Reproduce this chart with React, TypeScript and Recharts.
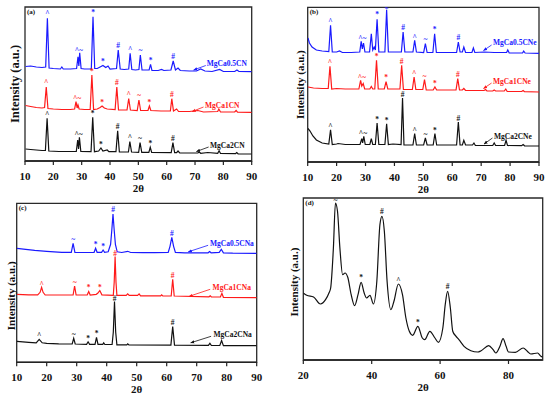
import React from 'react'
import { ComposedChart, Line, Scatter, XAxis, YAxis, ReferenceArea, ReferenceLine, Label } from 'recharts'

type Pt = [number, number]
type Mark = [number, number, string]

const FONT = '"Liberation Serif", "Times New Roman", "DejaVu Serif", serif'
const BLUE = '#1a1aff'
const RED = '#ff1a1a'
const BLACK = '#111111'

const ticks10 = [10, 20, 30, 40, 50, 60, 70, 80, 90]
const ticks20 = [20, 40, 60, 80]

// ---- panel (a) ----
const aBlue: Pt[] = [
  [10.2, 94.5], [12, 95], [14, 94], [16, 93.5], [17.3, 94], [17.9, 142.7], [18.5, 93], [20, 92.5], [22.5, 92], [23, 94],
  [23.5, 92], [26, 92], [28.2, 92.5], [28.7, 104.3], [29.0, 95], [29.3, 108.3], [29.8, 92.5], [31, 92], [33.4, 92], [34, 144.3],
  [34.6, 92.5], [35.5, 92.5], [36.5, 94], [37.5, 95.5], [38.5, 93.5], [39.3, 95], [40, 92], [42.3, 92.5], [42.9, 111], [43.6, 92],
  [45, 91.5], [46.6, 92], [47.1, 107.7], [47.7, 91.5], [49, 91], [50.2, 91.5], [50.7, 106], [51.3, 91], [53.8, 91], [54.3, 96.7],
  [54.8, 90.5], [57, 90.5], [58.2, 91.5], [59, 90.5], [61.5, 91], [62.3, 100], [63.1, 91], [64, 93], [64.8, 90.5], [68, 90],
  [70.5, 90], [72, 92], [73.5, 90], [76, 89.5], [78.7, 91.5], [80, 89.5], [84, 89.5], [84.8, 91], [85.5, 89.5], [90, 89.3],
]
const aRed: Pt[] = [
  [10.2, 55.5], [12, 54.5], [14, 53.5], [16, 53], [16.9, 53.5], [17.5, 74], [18.1, 52.5], [20, 52], [23, 51.5], [26, 51.5],
  [27.5, 52], [28, 59.3], [28.4, 53], [28.7, 56], [29.1, 52], [31, 51.5], [33, 51.5], [33.6, 86], [34.2, 51.5], [35.5, 52],
  [36.5, 53.5], [37.2, 55], [38, 53], [39, 52], [41.8, 51.5], [42.4, 74], [43, 51], [46, 51], [46.6, 62.3], [47.2, 51],
  [49.6, 50.5], [50.2, 61], [50.8, 50.5], [53.4, 50.5], [53.9, 55], [54.4, 50.5], [58, 50], [61.3, 50], [61.8, 62.3], [62.4, 50],
  [63.5, 52], [64.2, 49.5], [68, 49.5], [71, 50.5], [73, 49], [78, 49.5], [78.4, 52], [79, 49], [84, 49], [84.5, 50.5],
  [85, 48.8], [90, 48.7],
]
const aBlack: Pt[] = [
  [10.2, 12], [12, 11.5], [14, 11], [16, 10.5], [17.2, 10.5], [17.8, 42.7], [18.4, 10], [22, 9.5], [28.1, 9.5], [28.6, 21],
  [28.9, 12], [29.2, 23.7], [29.7, 9.5], [33.3, 9.3], [33.9, 43.7], [34.5, 9.3], [36, 10], [36.8, 13], [37.5, 10], [39, 11],
  [39.6, 9.3], [42.1, 9.3], [42.7, 30.3], [43.3, 9], [46.5, 9], [47, 19.3], [47.6, 9], [50.1, 8.7], [50.6, 18.3], [51.2, 8.7],
  [53.7, 8.7], [54.2, 13.7], [54.7, 8.5], [61.6, 8.3], [62.2, 18.3], [62.8, 8.3], [63.5, 8.3], [64, 10], [64.6, 8], [71, 8],
  [71.5, 9], [72, 7.7], [74.5, 8.5], [78, 7.7], [78.5, 10.3], [79, 7.5], [84.3, 7.3], [84.7, 8.5], [85.2, 7.2], [90, 7],
]
const aBlueMarks: Mark[] = [
  [17.9, 147.5, '^'], [29, 111, '^~'], [34, 148.5, '*'], [37.5, 99.5, '*'],
  [42.9, 115.5, '#'], [47.1, 112, '^'], [50.7, 110.5, '~'], [54.3, 101, '*'], [62.3, 104.5, '#'],
]
const aRedMarks: Mark[] = [
  [17.5, 78.5, '^'], [28.4, 62.5, '^~'], [33.6, 90, '*'], [37.2, 59, '*'],
  [42.4, 78.5, '#'], [46.6, 66.5, '^'], [50.2, 65.5, '~'], [53.9, 59, '*'], [61.8, 66.5, '#'],
]
const aBlackMarks: Mark[] = [
  [17.8, 47, '^'], [28.9, 27, '^~'], [33.9, 48, '*'], [36.8, 17, '*'],
  [42.7, 34.5, '#'], [47, 23.5, '^'], [50.6, 22.5, '~'], [54.2, 18, '*'], [62.2, 22.5, '#'],
]

// ---- panel (b) ----
const bBlue: Pt[] = [
  [10.1, 124], [10.6, 119], [11.5, 115], [13, 112], [15, 111], [17.3, 110.5], [17.9, 136.7], [18.5, 110], [20, 110], [21, 111],
  [22, 109.5], [25, 109.5], [28, 110], [28.5, 120.7], [28.9, 113], [29.3, 119], [29.8, 110], [31.4, 110], [32, 128.3], [32.5, 112],
  [33, 115], [33.4, 112], [34, 142.7], [34.6, 110], [36.7, 110], [37.3, 152.3], [37.9, 110], [40, 110], [42.4, 110], [43, 130],
  [43.6, 110], [46.4, 110], [47, 121.7], [47.6, 110], [50.1, 109.5], [50.7, 118.3], [51.3, 109.5], [53.3, 109.5], [53.9, 128.3], [54.5, 109.5],
  [58, 109.5], [61.5, 109.5], [62.1, 120], [62.7, 110], [63.5, 110], [64, 115], [64.6, 109.5], [66.8, 109.5], [67.3, 114], [67.8, 109.5],
  [71, 110], [74.5, 109.5], [78.8, 109.5], [79.2, 112], [79.7, 109], [84.3, 109], [84.7, 111], [85.2, 109], [90, 108.7],
]
const bRed: Pt[] = [
  [10.1, 75], [12, 74], [15, 73.5], [17.1, 73.5], [17.7, 95.7], [18.3, 73], [20, 73.5], [23, 73], [27.7, 73], [28.3, 81.7],
  [28.7, 76], [29.2, 78.5], [29.7, 73], [31.5, 73], [32, 75.5], [32.5, 73], [33.2, 73], [33.8, 101.7], [34.4, 73], [36.5, 73],
  [37.1, 80.3], [37.7, 73], [41.9, 73], [42.5, 96.7], [43.1, 72.5], [46.2, 72.5], [46.8, 85], [47.4, 72.5], [49.8, 72.5], [50.4, 82.3],
  [51, 72], [53.4, 72], [54, 75], [54.6, 72], [61.3, 72], [61.9, 83.3], [62.5, 72], [63.5, 72], [64, 73.5], [64.6, 71.5],
  [71, 71.5], [71.5, 72.5], [72, 71], [74, 71], [74.5, 72], [75, 71], [78, 71], [78.5, 73], [79, 70.5], [84, 70.5],
  [84.5, 71.5], [85, 70.3], [90, 70],
]
const bBlack: Pt[] = [
  [10.1, 33.5], [10.8, 31], [11.8, 26], [13, 22], [15, 19], [17.3, 18], [17.9, 32.3], [18.5, 17.5], [20, 18], [20.5, 18.5],
  [23, 17.5], [28.1, 17.5], [28.7, 23.3], [29, 19], [29.4, 25.7], [29.9, 17.5], [31.5, 17.5], [32, 23.3], [32.5, 17.5], [33.4, 17.5],
  [34, 39], [34.6, 17.5], [36.7, 17.5], [37.3, 38.3], [37.9, 17.5], [39.5, 18], [42.3, 17.5], [42.8, 64], [43.3, 17], [46.4, 17],
  [47, 28.3], [47.6, 17], [50.1, 17], [50.7, 24], [51.3, 17], [53.4, 17], [54, 28.3], [54.6, 17], [61.5, 17], [62.1, 40],
  [62.7, 17], [63.5, 17], [64, 21.7], [64.6, 17], [67, 17], [67.5, 19], [68, 16.5], [74, 16.5], [74.5, 19], [75, 16.5],
  [78.1, 16.5], [78.6, 21.7], [79.1, 16.5], [84, 16.3], [84.5, 17.5], [85, 16.2], [90, 16],
]
const bBlueMarks: Mark[] = [
  [17.9, 141, '^'], [28.9, 124, '^~'], [34, 147.5, '*'], [37.3, 153, '*'],
  [43, 134.5, '#'], [47, 125, '^'], [50.7, 122.5, '~'], [53.9, 132.5, '*'], [62.1, 124.5, '#'],
]
const bRedMarks: Mark[] = [
  [17.7, 100, '^'], [28.7, 85, '^~'], [33.8, 105.5, '*'], [37.1, 84.5, '*'],
  [42.5, 101, '#'], [46.8, 89, '^'], [50.4, 86, '~'], [54, 79, '*'], [61.9, 87.5, '#'],
]
const bBlackMarks: Mark[] = [
  [17.9, 36, '^'], [29.1, 29, '^~'], [34, 42.5, '*'], [37.3, 42, '*'],
  [42.8, 68, '#'], [47, 32, '^'], [50.7, 27.5, '~'], [54, 32, '*'], [62.1, 44, '#'],
]

// ---- panel (c) ----
const cBlue: Pt[] = [
  [10.1, 114], [13, 113], [16, 112], [20, 111], [25, 110], [28.2, 110], [28.8, 119], [29.4, 110], [32, 109.8], [35.8, 110],
  [36.3, 114], [36.8, 110], [38.3, 110], [38.8, 112.3], [39.3, 110], [40.5, 110.5], [41.3, 118], [41.7, 132], [42.1, 148.3], [42.5, 132],
  [42.9, 118], [43.5, 110.5], [45, 109.8], [47, 111], [48, 109.8], [52, 109.7], [56, 109.7], [60.5, 110], [61.1, 116], [61.7, 125],
  [62.3, 116], [62.9, 110], [66, 109.5], [73.8, 109.5], [74.3, 110.7], [74.8, 109.5], [77.5, 110], [78.2, 113], [78.9, 109.5], [82, 109.2],
  [90, 109],
]
const cRed: Pt[] = [
  [10.1, 68], [14, 67.5], [17, 67.5], [17.8, 70], [18.3, 75], [18.8, 70], [19.5, 67.3], [24, 67.3], [28.8, 67.3], [29.3, 76.3],
  [29.8, 67.3], [33.5, 67.3], [34, 70.7], [34.5, 67.3], [36.5, 68], [37, 69], [37.7, 71.7], [38.4, 67.5], [42.2, 67], [42.5, 80],
  [42.8, 105.7], [43.1, 80], [43.4, 67], [46.5, 67], [47, 68.5], [47.5, 67], [50.3, 67], [50.8, 68.5], [51.3, 66.5], [58, 66.5],
  [58.3, 67.5], [58.7, 66.3], [61.5, 66.3], [62, 83], [62.5, 66.3], [74.1, 65.5], [74.5, 66.5], [74.9, 65.3], [77.9, 65.3], [78.4, 69],
  [78.9, 65], [90, 64.7],
]
const cBlack: Pt[] = [
  [10.1, 21], [14, 20], [16.5, 19.5], [17.5, 23], [18.5, 19.5], [20, 19], [24, 18.5], [28.5, 18.3], [29, 24], [29.5, 18.3],
  [33.3, 18], [33.8, 20.5], [34.3, 18], [36.1, 18], [36.6, 25], [37.1, 18], [38.7, 18], [39, 19.5], [39.4, 17.8], [41.8, 17.8],
  [42.2, 30], [42.6, 60.7], [43, 30], [43.4, 17.5], [46.7, 17.5], [47, 18.5], [47.4, 17.3], [61.4, 17.2], [62, 35.7], [62.6, 17.2],
  [73.9, 17], [74.4, 19], [74.9, 16.8], [77.7, 16.8], [78.3, 21.7], [78.9, 16.7], [90, 16.7],
]
const cBlueMarks: Mark[] = [[28.8, 122.5, '~'], [36.3, 117.5, '*'], [38.8, 115.5, '*'], [42.1, 152.5, '#'], [61.7, 129, '#']]
const cRedMarks: Mark[] = [[18.3, 77.5, '^'], [29.3, 80, '~'], [34, 74.5, '*'], [37.7, 75, '*'], [42.8, 108.5, '#'], [62, 86.5, '#']]
const cBlackMarks: Mark[] = [[17.5, 26.5, '^'], [29, 28, '~'], [33.8, 24, '*'], [36.6, 28.5, '*'], [42.6, 64, '#'], [62, 39.5, '#']]

// ---- panel (d) ----
const dCurve: Pt[] = [
  [20, 67], [21, 64.7], [23, 63], [25, 56], [26.5, 60.3], [27.5, 67], [28, 72], [28.8, 112], [29.4, 157], [30.0, 148.7],
  [30.7, 112], [31.5, 85.3], [32.2, 87], [33, 82.7], [34, 65.3], [35, 54.3], [36, 65.3], [36.9, 77.7], [37.8, 67], [38.5, 62],
  [39.5, 64.7], [40.5, 56], [41.5, 78.7], [42.4, 135.3], [43.0, 143.7], [43.7, 128.7], [44.5, 78.7], [45.6, 50.3], [46.5, 58.7], [47.8, 76],
  [49, 65.3], [50, 42], [51, 28.7], [52, 24.7], [53.5, 33.7], [54.8, 22], [55.5, 20.3], [57, 28.7], [58.5, 22], [59.5, 17.7],
  [60.8, 32], [61.5, 55.3], [62.2, 68.7], [63, 52], [63.7, 28.7], [64.5, 24.3], [65.5, 20.3], [67, 13.7], [69, 9.3], [71, 8],
  [72, 9.3], [74.2, 14.3], [75.5, 10.3], [76.3, 7], [77.5, 13.7], [78.4, 21.3], [79.3, 13.7], [80, 8], [82, 7.7], [84.3, 12],
  [85.5, 8.7], [86.5, 6], [88.5, 7], [89.5, 3.7], [90, 2.7],
]
const dMarks: Mark[] = [[29.4, 160, '~'], [43, 148.5, '#'], [36.9, 82.5, '*'], [47.8, 80, '^'], [53.5, 37.5, '*'], [62.2, 74, '#']]

interface Trace {
  name: string
  color: string
  data: Pt[]
  marks: Mark[]
  label?: [number, number]
  arrow?: [number, number, number, number]
}

interface PanelProps {
  tag: string
  left: number
  top: number
  width: number
  height: number
  margin: { top: number; right: number; bottom: number; left: number }
  yAxisWidth: number
  xDomain: [number, number]
  yMax: number
  ticks: number[]
  labelDx: number
  labelDy: number
  labelSize: number
  smooth?: boolean
  traces: Trace[]
}

const rows = (pts: Pt[]) => pts.map(([t, v]) => ({ t, v }))
const markRows = (m: Mark[]) => m.map(([t, v, s]) => ({ t, v, s }))

function Panel(p: PanelProps) {
  const [x0, x1] = p.xDomain
  return (
    <div style={{ position: 'absolute', left: p.left, top: p.top }}>
      <ComposedChart width={p.width} height={p.height} margin={p.margin}>
        <defs>
          {p.traces.map((tr) => (
            <marker key={tr.name} id={`arr-${p.tag}-${tr.name}`} viewBox="0 0 10 10" refX="9" refY="5"
              markerWidth="5" markerHeight="5" orient="auto">
              <path d="M0,1 L10,5 L0,9 z" fill={tr.color} />
            </marker>
          ))}
        </defs>
        <XAxis
          type="number"
          dataKey="t"
          domain={p.xDomain}
          ticks={p.ticks}
          allowDataOverflow
          height={30}
          tickSize={4}
          tickMargin={7}
          tick={{ fontSize: 11, fontWeight: 700, fill: '#111', fontFamily: FONT }}
          axisLine={{ stroke: '#222', strokeWidth: 1.4 }}
          tickLine={{ stroke: '#222', strokeWidth: 1.2 }}
          label={
            <Label
              content={(props: any) => {
                const vb = props.viewBox
                return (
                  <text x={vb.x + vb.width / 2} y={vb.y + 31} textAnchor="middle" fontFamily={FONT}
                    fontWeight={700} fontSize={11} fill="#111">2θ</text>
                )
              }}
            />
          }
        />
        <YAxis
          type="number"
          dataKey="v"
          domain={[0, p.yMax]}
          allowDataOverflow
          width={p.yAxisWidth}
          tick={false}
          axisLine={false}
          tickLine={false}
          label={
            <Label
              content={(props: any) => {
                const vb = props.viewBox
                const cx = vb.x + vb.width / 2 + p.labelDx
                const cy = vb.y + vb.height / 2 + p.labelDy
                return (
                  <text x={cx} y={cy} transform={`rotate(-90 ${cx} ${cy})`} textAnchor="middle"
                    dominantBaseline="central" fontFamily={FONT} fontWeight={700} fontSize={p.labelSize} fill="#111">
                    Intensity (a.u.)
                  </text>
                )
              }}
            />
          }
        />
        <ReferenceArea
          x1={x0}
          x2={x1}
          y1={0}
          y2={p.yMax}
          fill="none"
          fillOpacity={0}
          stroke="#2a2a2a"
          strokeWidth={1.3}
          ifOverflow="visible"
          label={
            <Label
              content={(props: any) => {
                const vb = props.viewBox
                return (
                  <text x={vb.x + 2} y={vb.y + 7} fontFamily={FONT} fontWeight={700} fontSize={7} fill="#111">
                    ({p.tag})
                  </text>
                )
              }}
            />
          }
        />
        {p.traces.map((tr) => (
          <Line
            key={`l-${tr.name}`}
            data={rows(tr.data)}
            dataKey="v"
            type={p.smooth ? 'monotone' : 'linear'}
            stroke={tr.color}
            strokeWidth={1.2}
            dot={false}
            activeDot={false}
            isAnimationActive={false}
          />
        ))}
        {p.traces.map((tr) => (
          <Scatter
            key={`m-${tr.name}`}
            data={markRows(tr.marks)}
            dataKey="v"
            isAnimationActive={false}
            shape={(s: any) => (
              <text x={s.cx} y={s.cy} textAnchor="middle" dominantBaseline="central" fontFamily={FONT}
                fontWeight={700} fontSize={7.5} fill={tr.color}>
                {s.payload.s}
              </text>
            )}
          />
        ))}
        {p.traces.filter((tr) => tr.arrow).map((tr) => (
          <ReferenceLine
            key={`a-${tr.name}`}
            segment={[
              { x: tr.arrow![0], y: tr.arrow![1] },
              { x: tr.arrow![2], y: tr.arrow![3] },
            ]}
            stroke={tr.color}
            strokeWidth={0.8}
            markerEnd={`url(#arr-${p.tag}-${tr.name})`}
            ifOverflow="visible"
          />
        ))}
        {p.traces.filter((tr) => tr.label).map((tr) => (
          <Scatter
            key={`n-${tr.name}`}
            data={[{ t: tr.label![0], v: tr.label![1], s: tr.name }]}
            dataKey="v"
            isAnimationActive={false}
            shape={(s: any) => (
              <text x={s.cx} y={s.cy} textAnchor="start" dominantBaseline="central" fontFamily={FONT}
                fontWeight={700} fontSize={7.5} fill={tr.color}>
                {s.payload.s}
              </text>
            )}
          />
        ))}
      </ComposedChart>
    </div>
  )
}

export default function App() {
  return (
    <div style={{ position: 'fixed', left: 0, top: 0, width: 550, height: 396, background: '#fff', overflow: 'hidden' }}>
      <Panel
        tag="a" left={0} top={0} width={275} height={200}
        margin={{ top: 7, right: 23.3, bottom: 9, left: 5 }} yAxisWidth={20}
        xDomain={[10, 90]} yMax={154} ticks={ticks10} labelDx={0} labelDy={0} labelSize={12.5}
        traces={[
          { name: 'MgCa0.5CN', color: BLUE, data: aBlue, marks: aBlueMarks, label: [74.1, 97.7], arrow: [73.8, 95.5, 69.5, 91] },
          { name: 'MgCa1CN', color: RED, data: aRed, marks: aRedMarks, label: [73.5, 56], arrow: [73, 54, 69, 49.5] },
          { name: 'MgCa2CN', color: BLACK, data: aBlack, marks: aBlackMarks, label: [75.3, 16], arrow: [74.8, 14, 70.5, 9.5] },
        ]}
      />
      <Panel
        tag="b" left={275} top={0} width={275} height={200}
        margin={{ top: 7.3, right: 11, bottom: 8, left: 12.7 }} yAxisWidth={20}
        xDomain={[10, 90]} yMax={154.7} ticks={ticks10} labelDx={2} labelDy={0} labelSize={11}
        traces={[
          { name: 'MgCa0.5CNe', color: BLUE, data: bBlue, marks: bBlueMarks, label: [74.1, 119.3], arrow: [73.6, 117, 70.8, 111.5] },
          { name: 'MgCa1CNe', color: RED, data: bRed, marks: bRedMarks, label: [74.1, 81], arrow: [73.6, 79, 70.8, 73.5] },
          { name: 'MgCa2CNe', color: BLACK, data: bBlack, marks: bBlackMarks, label: [74.4, 26], arrow: [73.9, 24, 71, 18] },
        ]}
      />
      <Panel
        tag="c" left={0} top={200} width={275} height={196}
        margin={{ top: 3.3, right: 18.3, bottom: 3.7, left: 0 }} yAxisWidth={16.7}
        xDomain={[10, 90]} yMax={159} ticks={ticks10} labelDx={2.5} labelDy={13} labelSize={11}
        traces={[
          { name: 'MgCa0.5CNa', color: BLUE, data: cBlue, marks: cBlueMarks, label: [74.4, 119], arrow: [73.8, 117, 67.2, 110.5] },
          { name: 'MgCa1CNa', color: RED, data: cRed, marks: cRedMarks, label: [75.3, 75], arrow: [74.5, 73, 67.5, 66] },
          { name: 'MgCa2CNa', color: BLACK, data: cBlack, marks: cBlackMarks, label: [75.6, 28], arrow: [74.8, 26, 68, 19.5] },
        ]}
      />
      <Panel
        tag="d" left={275} top={196} width={275} height={200}
        margin={{ top: 2, right: 7.3, bottom: 6, left: 8.3 }} yAxisWidth={20}
        xDomain={[20, 90]} yMax={162} ticks={ticks20} labelDx={0.7} labelDy={3} labelSize={11} smooth
        traces={[{ name: 'd', color: BLACK, data: dCurve, marks: dMarks }]}
      />
    </div>
  )
}
